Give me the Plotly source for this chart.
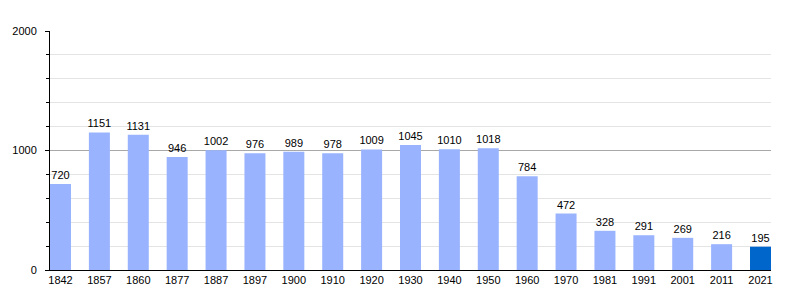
import plotly.graph_objects as go

years = ["1842", "1857", "1860", "1877", "1887", "1897", "1900", "1910", "1920", "1930",
         "1940", "1950", "1960", "1970", "1981", "1991", "2001", "2011", "2021"]
population = [720, 1151, 1131, 946, 1002, 976, 989, 978, 1009, 1045,
              1010, 1018, 784, 472, 328, 291, 269, 216, 195]

light = "#99b3ff"
dark = "#0066cc"
colors = [light] * (len(years) - 1) + [dark]

fig = go.Figure(go.Bar(
    x=years, y=population,
    marker=dict(color=colors, line=dict(width=0)),
    width=0.54,
    text=[str(v) for v in population],
    textposition="outside",
    textfont=dict(family="Liberation Sans, Arial", size=11, color="#000"),
    cliponaxis=False,
    hoverinfo="skip",
))

fig.update_layout(
    width=800, height=300,
    margin=dict(l=50, r=29, t=31, b=30),
    paper_bgcolor="white", plot_bgcolor="white",
    showlegend=False,
    uniformtext=dict(minsize=11, mode="show"),
    font=dict(family="Liberation Sans, Arial", size=11, color="#000"),
    xaxis=dict(
        type="category", range=[-0.27, 18.27],
        showline=True, linecolor="#000", linewidth=1,
        ticks="", showgrid=False,
        tickfont=dict(size=11),
    ),
    yaxis=dict(
        range=[0, 2000], tickvals=[0, 1000, 2000],
        showline=True, linecolor="#000", linewidth=1,
        ticks="outside", ticklen=4, tickcolor="#000",
        ticklabelstandoff=6,
        showgrid=True, gridcolor="#a8a8a8", gridwidth=1,
        zeroline=False,
        tickfont=dict(size=11),
        minor=dict(dtick=200, showgrid=True, gridcolor="#e4e4e4",
                   ticks="outside", ticklen=3, tickcolor="#000"),
    ),
)

fig.write_html("out.html")
